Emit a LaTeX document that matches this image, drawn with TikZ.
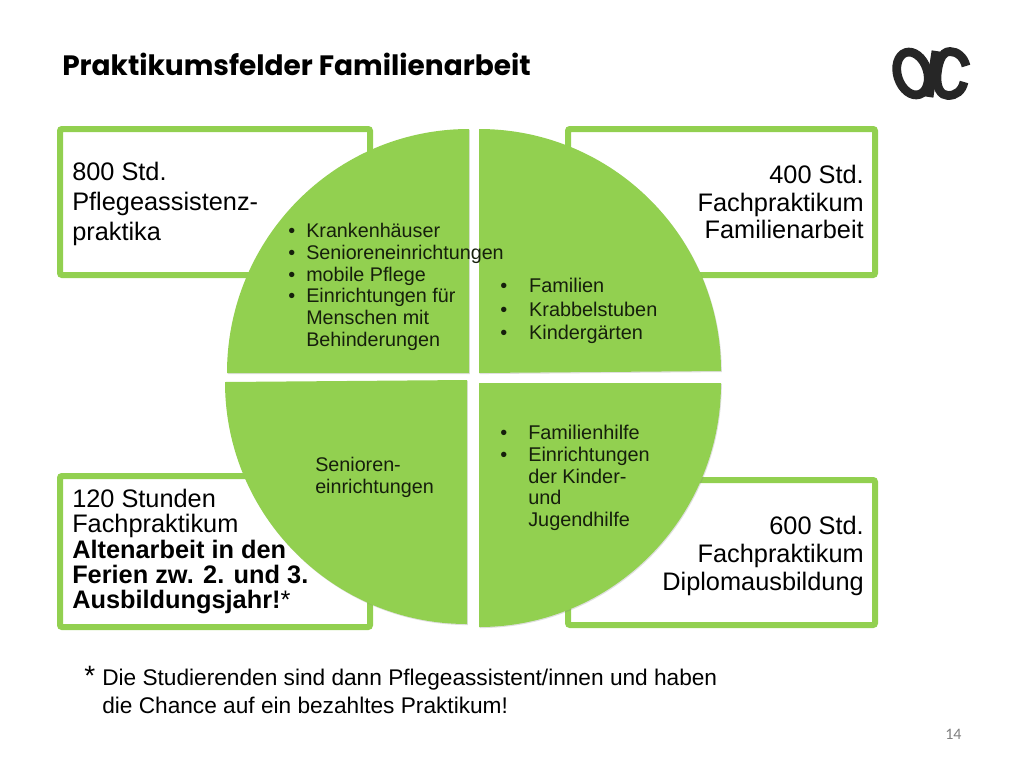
\documentclass[tikz,border=0pt]{standalone}
\usepackage{fontspec}
\setmainfont{Liberation Sans}
\newfontfamily\titlefont{Poppins}
\newfontfamily\pagefont{Carlito}
\usetikzlibrary{shadows}
\definecolor{feldgreen}{HTML}{92D050}
\newcommand{\bulwide}[1]{\makebox[21pt][l]{\textbullet}#1}
\newcommand{\bul}[1]{\makebox[13.5pt][l]{\textbullet}#1}
\tikzset{
  feldbox/.style={draw=feldgreen, line width=4.5pt, fill=white, rounded corners=1.5pt,
    drop shadow={opacity=.25, shadow xshift=.6pt, shadow yshift=-.8pt}},
  quarter/.style={fill=feldgreen,
    drop shadow={opacity=.25, shadow xshift=.6pt, shadow yshift=-.8pt}},
  boxtext/.style={inner sep=0pt, anchor=north west, align=left},
  boxright/.style={inner sep=0pt, anchor=north east, align=right},
  listtext/.style={inner sep=0pt, anchor=north west, align=left, text=black!85!feldgreen},
  logostroke/.style={draw=black!85, line width=6.6pt}
}
\begin{document}
\begin{tikzpicture}[x=0.75pt, y=-0.75pt]
    \useasboundingbox (0,0) rectangle (1024,768);
    % title and logo
    \node[boxtext, font=\titlefont\fontsize{21}{25}\selectfont\bfseries] (title) at (62,53) {Praktikumsfelder Familienarbeit};
    \draw[logostroke] (912.5,73.5) ellipse [x radius=15, y radius=22, rotate=18];
    \draw[logostroke] (936,51) -- (929,97);
    \draw[logostroke] (966,66) .. controls (964,57) and (957,51.5) .. (950,51.5)
        .. controls (941,51.5) and (938,64) .. (937,75)
        .. controls (936,88) and (941,95.5) .. (948,95.5)
        .. controls (956,95.5) and (962,91) .. (964,82);

    % outer boxes
    \draw[feldbox] (60,129) rectangle (370,275);
    \draw[feldbox] (568,129) rectangle (875,275);
    \draw[feldbox] (60,476) rectangle (370,627);
    \draw[feldbox] (568,480) rectangle (875,625);

    % quarter circles
    \fill[quarter] (469,373) -- (227,373) arc [start angle=180, end angle=270, x radius=242, y radius=244] -- cycle;
    \fill[quarter] (479,373) -- (479,129) arc [start angle=270, end angle=360, radius=242] -- cycle;
    \fill[quarter] (467,380) -- (467,624) arc [start angle=90, end angle=180, radius=242] -- cycle;
    \fill[quarter] (479,383) -- (721,383) arc [start angle=0, end angle=90, x radius=242, y radius=244] -- cycle;

    % box labels
    \node[boxtext, font=\fontsize{19}{22.5}\selectfont] (pflege) at (72,162) {800 Std.\\Pflegeassistenz-\\praktika};
    \node[boxright, font=\fontsize{19}{20.7}\selectfont] (familie) at (864,165) {400 Std.\\Fachpraktikum\\Familienarbeit};
    \node[boxtext, font=\fontsize{19}{19}\selectfont] (alten) at (72,489) {120 Stunden\\Fachpraktikum\\\textbf{Altenarbeit in den}\\\textbf{Ferien zw. 2. und 3.}\\\textbf{Ausbildungsjahr!}*};
    \node[boxright, font=\fontsize{19}{21}\selectfont] (diplom) at (864,516) {600 Std.\\Fachpraktikum\\Diplomausbildung};

    % lists in the quarters
    \node[listtext, font=\fontsize{14.8}{16.3}\selectfont] (listpflege) at (288,223) {\bul{Krankenhäuser}\\\bul{Senioreneinrichtungen}\\\bul{mobile Pflege}\\\bul{Einrichtungen für}\\\hspace*{13.5pt}Menschen mit\\\hspace*{13.5pt}Behinderungen};
    \node[listtext, font=\fontsize{14.9}{17.6}\selectfont] (listfamilie) at (500,278) {\makebox[21.7pt][l]{\textbullet}Familien\\\makebox[21.7pt][l]{\textbullet}Krabbelstuben\\\makebox[21.7pt][l]{\textbullet}Kindergärten};
    \node[listtext, font=\fontsize{14.8}{16.5}\selectfont] (listsenioren) at (315,457) {Senioren-\\einrichtungen};
    \node[listtext, font=\fontsize{14.9}{16.3}\selectfont] (listhilfe) at (500,425) {\bulwide{Familienhilfe}\\\bulwide{Einrichtungen}\\\hspace*{21pt}der Kinder-\\\hspace*{21pt}und\\\hspace*{21pt}Jugendhilfe};

    % footnote and page number
    \node[boxtext, font=\fontsize{21}{24}\selectfont] (star) at (84,666) {*};
    \node[boxtext, font=\fontsize{17}{21}\selectfont] (note) at (102,669) {Die Studierenden sind dann Pflegeassistent/innen und haben\\die Chance auf ein bezahltes Praktikum!};
    \node[boxtext, text=black!50, font=\pagefont\fontsize{12}{14}\selectfont] (page) at (945,729) {14};
\end{tikzpicture}
\end{document}
